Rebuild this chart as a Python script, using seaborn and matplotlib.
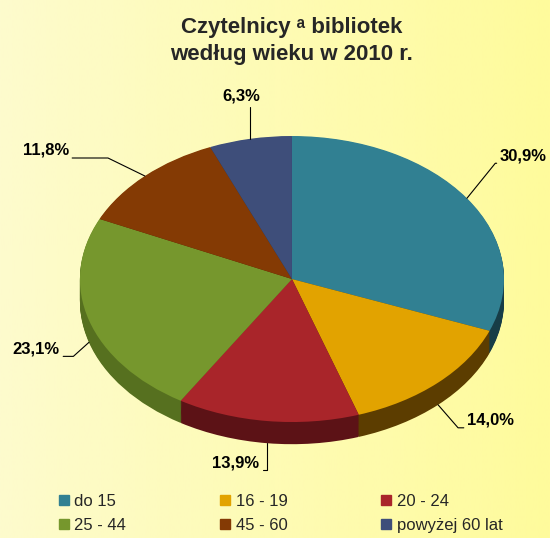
import numpy as np
import matplotlib
matplotlib.use("Agg")
import matplotlib.pyplot as plt
import seaborn as sns
from matplotlib.lines import Line2D
from matplotlib.colors import LinearSegmentedColormap

sns.set_theme(style="white")
plt.rcParams["font.family"] = ["Liberation Sans", "DejaVu Sans"]

# data
age_groups = ["do 15", "16 - 19", "20 - 24", "25 - 44", "45 - 60", "powyżej 60 lat"]
shares = [30.9, 14.0, 13.9, 23.1, 11.8, 6.3]

# styling
top_colors = ["#318092", "#e2a300", "#a9252a", "#76972d", "#843a04", "#3e4e7a"]
side_colors = ["#173d47", "#5c3d00", "#5c1216", "#56701f", "#4f2302", "#25304d"]
leader_angles = [51, -49, -90, -138, 154, 90]
label_offsets = [(33, 35), (29, -23), (-8, -27), (-29, -14), (-76, 18), (10, 35)]
depth = 0.155

fig = plt.figure(figsize=(5.5, 5.38), dpi=100)

# background gradient
bg = fig.add_axes([0, 0, 1, 1], zorder=-10)
cmap = LinearSegmentedColormap.from_list("bg", ["#fdfbcd", "#fffb9c"])
bg.imshow(np.linspace(0, 1, 256).reshape(1, -1), aspect="auto", cmap=cmap,
          extent=[0, 1, 0, 1])
bg.axis("off")

ax = fig.add_axes([0, 0, 1, 1])
ax.patch.set_alpha(0)

# side wall: stacked darker pies
for d in np.linspace(depth, 0.005, 24):
    ax.pie(shares, colors=side_colors, startangle=90, counterclock=False,
           center=(0, -d), wedgeprops=dict(linewidth=0))
ax.pie(shares, colors=top_colors, startangle=90, counterclock=False,
       wedgeprops=dict(linewidth=0))

ax.set_aspect("auto")
ax.set_xlim(-1.377, 1.217)
ax.set_ylim(-1.811, 1.951)
ax.axis("off")

# labels with leader lines
cum = np.cumsum(shares)
mid = np.radians(90 - 360 * (cum - np.array(shares) / 2) / 100)
for v, th, ang, off in zip(shares, mid, leader_angles, label_offsets):
    x, y = np.cos(th), np.sin(th)
    if y < 0:
        y -= depth
    right = off[0] > 0 and ang != 90
    ha = "left" if right else "right"
    ax.annotate(f"{v:.1f}".replace(".", ",") + "%", xy=(x, y), xytext=off,
                textcoords="offset pixels", ha=ha, va="bottom",
                fontsize=12, fontweight="bold", color="black",
                arrowprops=dict(arrowstyle="-", color="black", lw=0.8,
                                shrinkA=0, shrinkB=0,
                                relpos=(0, 0) if right else (1, 0),
                                connectionstyle=f"angle,angleA=0,angleB={ang},rad=0"))

fig.text(0.53, 0.968, "Czytelnicy ᵃ bibliotek\nwedług wieku w 2010 r.",
         ha="center", va="top", fontsize=16, fontweight="bold",
         linespacing=1.35)

order = [0, 3, 1, 4, 2, 5]
handles = [Line2D([], [], marker="s", linestyle="none", markersize=7.5,
                  color=top_colors[i]) for i in order]
fig.legend(handles, [age_groups[i] for i in order], ncol=3, frameon=False,
           loc="upper left", bbox_to_anchor=(0.09, 0.098), borderpad=0,
           fontsize=12, handlelength=0.7, handletextpad=0.3,
           columnspacing=5.55, labelspacing=0.55)

plt.savefig("out.png", dpi=100)
plt.close()
